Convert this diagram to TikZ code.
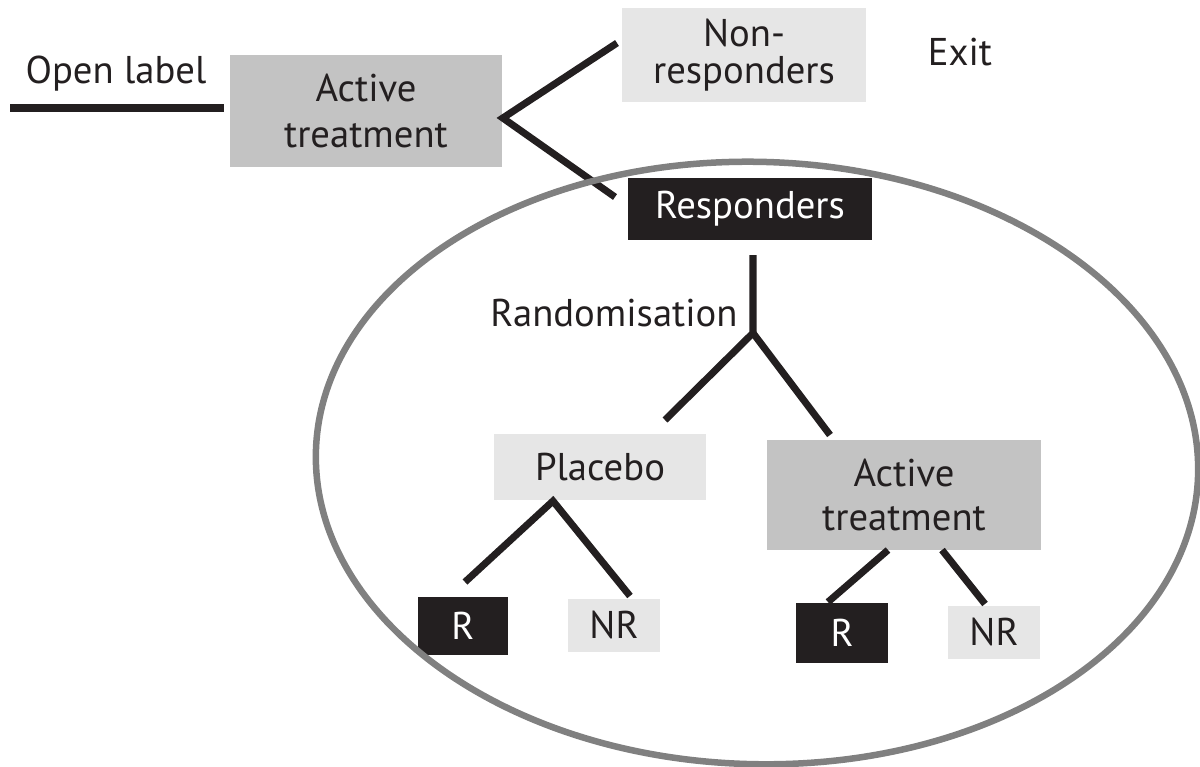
\documentclass[tikz,border=0pt]{standalone}
\usepackage{fontspec}
\setmainfont{PT Sans}
\usepackage{xcolor}
\usetikzlibrary{positioning, calc}
\definecolor{ink}{HTML}{231F20}
\definecolor{boxlight}{HTML}{E6E6E6}
\definecolor{boxmid}{HTML}{C3C3C3}
\definecolor{ring}{HTML}{808080}

\begin{document}
\begin{tikzpicture}[
  x=0.01cm, y=-0.01cm,
  box/.style={inner sep=0pt, align=center, text=ink,
              font=\fontsize{11}{13}\selectfont},
  light/.style={box, fill=boxlight},
  mid/.style={box, fill=boxmid},
  dark/.style={box, fill=ink, text=white},
  lbl/.style={text=ink, inner sep=0pt, font=\fontsize{11}{13}\selectfont},
  branch/.style={draw=ink, line width=2pt}
]
\useasboundingbox (0,0) rectangle (1200,766);

% open label phase
\node[lbl] (open) at (116,74) {Open label};
\node[mid, minimum width=2.72cm, minimum height=1.12cm] (acttop) at (366,111) {Active\\treatment};
\node[light, minimum width=2.43cm, minimum height=0.94cm,
      font=\fontsize{11}{10.4}\selectfont] (nonresp) at (744,55) {Non-\\responders};
\node[lbl] (exit) at (960,52) {Exit};
\node[dark, minimum width=2.43cm, minimum height=0.62cm] (resp) at (750,209) {Responders};

% randomised phase
\node[lbl] (rand) at (614,313) {Randomisation};
\node[light, minimum width=2.11cm, minimum height=0.66cm] (placebo) at (600,467) {Placebo};
\node[mid, minimum width=2.73cm, minimum height=1.09cm,
      font=\fontsize{11}{12.3}\selectfont] (actbot) at (904,495) {Active\\treatment};
\node[dark, minimum width=0.90cm, minimum height=0.58cm] (rleft)   at (463,626) {R};
\node[light, minimum width=0.91cm, minimum height=0.53cm] (nrleft) at (614,625) {NR};
\node[dark, minimum width=0.91cm, minimum height=0.59cm] (rright)  at (842,633) {R};
\node[light, minimum width=0.92cm, minimum height=0.53cm] (nrright) at (994,632) {NR};

\coordinate (openstart) at (10,108);
\coordinate (fork)      at ([yshift=-0.07cm]acttop.east);
\coordinate (nonend)    at (617,43);
\coordinate (respend)   at (615,197);
\coordinate (randtop)   at (753,255);
\coordinate (randfork)  at (753,333);
\coordinate (placend)   at (665,420);
\coordinate (actend)    at (830,435);
\coordinate (pfork)     at (553,501);
\coordinate (rlend)     at (465,582);
\coordinate (nrlend)    at (630,596);
\coordinate (ableft)    at (888,550);
\coordinate (rrend)     at (828,602);
\coordinate (abright)   at (942,550);
\coordinate (nrrend)    at (985,604);

\draw[branch, shorten >=0.05cm] (openstart) -- (openstart -| acttop.west);
\draw[branch] (nonend) -- (fork) -- (respend);
\draw[branch] (randtop) -- (randfork) -- (placend);
\draw[branch] (randfork) -- (actend);
\draw[branch] (rlend) -- (pfork) -- (nrlend);
\draw[branch] (ableft) -- (rrend);
\draw[branch] (abright) -- (nrrend);

\draw[ring, line width=0.065cm, rotate around={-1.5:(757,463)}]
  (757,463) ellipse [x radius=4.41cm, y radius=3.01cm];
\end{tikzpicture}
\end{document}
